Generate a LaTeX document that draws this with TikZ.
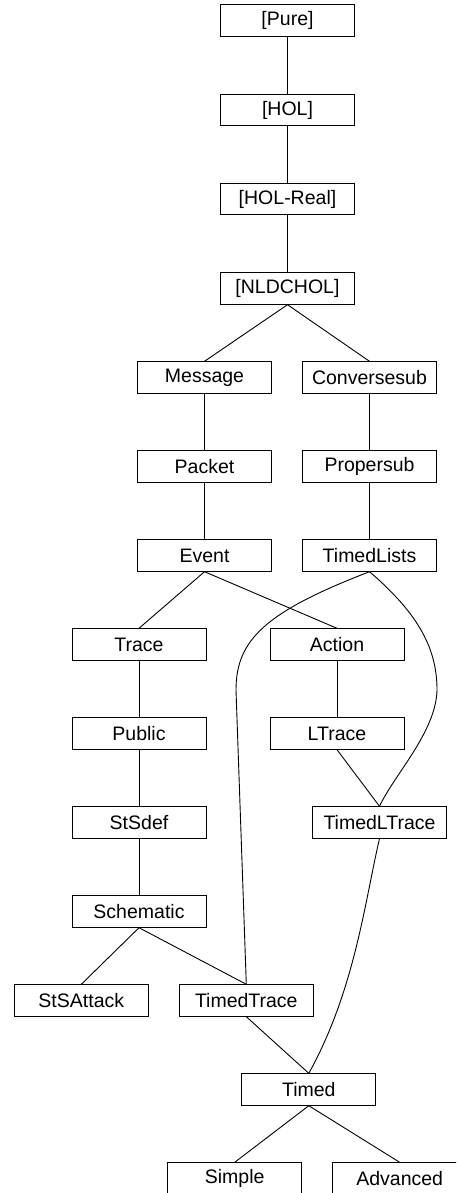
\documentclass[tikz,border=0pt]{standalone}
\usepackage{fontspec}
\setmainfont{Liberation Sans}
\begin{document}
\begin{tikzpicture}[x=1pt,y=-1pt,
  box/.style={draw,line width=0.9pt,minimum width=134pt,minimum height=31.5pt,inner sep=0pt,
    font=\fontsize{19.5pt}{22pt}\selectfont},
  edge/.style={line width=0.9pt}]
\clip (0,0) rectangle (456,1193);
\fill[white] (0,0) rectangle (456,1193);
% nodes
\node[box] (pure) at (287.5,20.5) {[Pure]};
\node[box] (hol) at (287.5,110) {[HOL]};
\node[box] (holreal) at (287.5,199) {[HOL-Real]};
\node[box] (nldchol) at (287.5,288.5) {[NLDCHOL]};
\node[box] (message) at (204.5,377.5) {Message};
\node[box] (conv) at (369.5,377.5) {Conversesub};
\node[box] (packet) at (204.5,466.5) {Packet};
\node[box] (proper) at (369.5,466.5) {Propersub};
\node[box] (event) at (204.5,555.5) {Event};
\node[box] (tlists) at (369.5,555.5) {TimedLists};
\node[box] (trace) at (139,644.5) {Trace};
\node[box] (action) at (337,644.5) {Action};
\node[box] (public) at (139,733.5) {Public};
\node[box] (ltrace) at (337,733.5) {LTrace};
\node[box] (stsdef) at (139,822.5) {StSdef};
\node[box] (tltrace) at (379.5,822.5) {TimedLTrace};
\node[box] (schematic) at (139,911.5) {Schematic};
\node[box] (stsattack) at (81.3,1000.5) {StSAttack};
\node[box] (ttrace) at (246.3,1000.5) {TimedTrace};
\node[box] (timed) at (308.8,1089.5) {Timed};
\node[box] (simple) at (234.7,1178.5) {Simple};
\node[box] (advanced) at (399.7,1178.5) {Advanced};
% edges
\draw[edge] (pure.south) -- (hol.north);
\draw[edge] (hol.south) -- (holreal.north);
\draw[edge] (holreal.south) -- (nldchol.north);
\draw[edge] (nldchol.south) -- (message.north);
\draw[edge] (nldchol.south) -- (conv.north);
\draw[edge] (message.south) -- (packet.north);
\draw[edge] (packet.south) -- (event.north);
\draw[edge] (conv.south) -- (proper.north);
\draw[edge] (proper.south) -- (tlists.north);
\draw[edge] (event.south) -- (trace.north);
\draw[edge] (event.south) -- (action.north);
\draw[edge] (tlists.south) .. controls (265,612) and (236,640) .. (236,690) -- (ttrace.north);
\draw[edge] (tlists.south) .. controls (420,615) and (437,650) .. (437,690)
  .. controls (436,732) and (394,775) .. (tltrace.north);
\draw[edge] (action.south) -- (ltrace.north);
\draw[edge] (ltrace.south) -- (tltrace.north);
\draw[edge] (trace.south) -- (public.north);
\draw[edge] (public.south) -- (stsdef.north);
\draw[edge] (stsdef.south) -- (schematic.north);
\draw[edge] (schematic.south) -- (stsattack.north);
\draw[edge] (schematic.south) -- (ttrace.north);
\draw[edge] (ttrace.south) -- (timed.north);
\draw[edge] (tltrace.south) .. controls (365,900) and (355,990) .. (timed.north);
\draw[edge] (timed.south) -- (simple.north);
\draw[edge] (timed.south) -- (advanced.north);
\end{tikzpicture}
\end{document}
